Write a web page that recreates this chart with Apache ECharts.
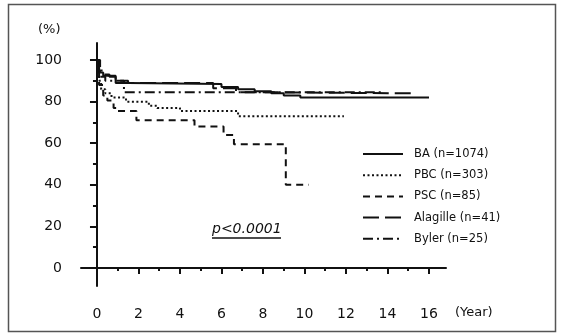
<!DOCTYPE html>
<html>
<head>
<meta charset="utf-8">
<script src="https://cdn.jsdelivr.net/npm/echarts@6/dist/echarts.min.js"></script>
<style>
  html, body { margin: 0; padding: 0; background: #fff; }
  #miGrafico { width: 562px; height: 335px; }
</style>
</head>
<body>
<div id="miGrafico"></div>
<script>
// Kaplan-Meier curves: each point = (start year, survival %), last point = end of follow-up
var baYears = [0, 0.1, 0.3, 0.9, 1.5, 6.0, 6.8, 7.6, 8.4, 9.0, 9.8, 16.0];
var baSurv  = [100, 94, 92.5, 89, 88.5, 87, 86, 85, 84, 83, 82, 82];

var pbcYears = [0, 0.1, 0.2, 0.4, 0.7, 1.4, 2.5, 2.9, 4, 6.8, 11.9];
var pbcSurv  = [100, 90, 86, 84, 82, 80, 78, 77, 75.5, 73, 73];

var pscYears = [0, 0.1, 0.3, 0.5, 0.8, 1.0, 1.9, 4.7, 6.1, 6.6, 9.1, 10.2];
var pscSurv  = [100, 88, 83, 80.5, 77, 75.5, 71, 68, 64, 59.5, 40, 40];

var alaYears = [0, 0.1, 0.3, 0.6, 0.9, 1.5, 5.6, 6.7, 8.2, 15.3];
var alaSurv  = [100, 95, 93, 92, 90, 89, 86.5, 84.5, 84, 84];

var bylYears = [0, 0.15, 0.4, 1.3, 13.8];
var bylSurv  = [100, 92, 90, 84.5, 84.5];

var names = ['BA (n=1074)', 'PBC (n=303)', 'PSC (n=85)', 'Alagille (n=41)', 'Byler (n=25)'];
var dashes = ['solid', [2, 2.5], [7, 5], [16, 6], [10, 4, 2, 4]];

var majorX = [0, 2, 4, 6, 8, 10, 12, 14, 16];
var minorX = [1, 3, 5, 7, 9, 11, 13, 15];
var majorY = [0, 20, 40, 60, 80, 100];
var minorY = [10, 30, 50, 70, 90];

document.addEventListener('DOMContentLoaded', function () {
  var chartDom = document.getElementById('miGrafico');
  var myChart = echarts.init(chartDom);

  function pares(xs, ys) {
    return xs.map(function (x, i) { return [x, ys[i]]; });
  }
  var datos = [
    pares(baYears, baSurv),
    pares(pbcYears, pbcSurv),
    pares(pscYears, pscSurv),
    pares(alaYears, alaSurv),
    pares(bylYears, bylSurv)
  ];

  var fuente = 'DejaVu Sans';
  var negro = '#111';

  var option = {
    animation: false,
    textStyle: { fontFamily: fuente, color: negro },
    grid: { left: 81, right: 116, top: 43, bottom: 49 },
    graphic: [
      { type: 'rect', shape: { x: 8.5, y: 4.5, width: 547, height: 327 },
        style: { fill: 'none', stroke: '#555', lineWidth: 1.5 }, silent: true },
      { type: 'text', left: 212, top: 222,
        style: { text: 'p<0.0001', font: 'italic 14px "DejaVu Sans"', fill: negro } },
      { type: 'line', shape: { x1: 212, y1: 238, x2: 281, y2: 238 },
        style: { stroke: negro, lineWidth: 1.5 } },
      { type: 'text', left: 38, top: 23,
        style: { text: '(%)', font: '13px "DejaVu Sans"', fill: negro } },
      { type: 'text', left: 455, top: 306,
        style: { text: '(Year)', font: '13px "DejaVu Sans"', fill: negro } }
    ],
    legend: {
      orient: 'vertical',
      left: 357,
      top: 143,
      itemWidth: 40,
      itemHeight: 14,
      itemGap: 9.2,
      itemStyle: { opacity: 0 },
      textStyle: { fontFamily: fuente, fontSize: 11.5, color: negro, padding: [0, 0, 0, 6] },
      data: names
    },
    xAxis: [
      {
        type: 'value', min: -0.77, max: 16.82,
        splitLine: { show: false },
        axisLine: { lineStyle: { color: negro, width: 2 } },
        axisTick: { customValues: majorX, length: 6, lineStyle: { width: 2, color: negro } },
        axisLabel: { customValues: majorX, margin: 21, fontSize: 14, color: negro, fontFamily: fuente }
      },
      {
        type: 'value', min: -0.77, max: 16.82, position: 'bottom',
        splitLine: { show: false },
        axisLine: { show: false },
        axisTick: { customValues: minorX, length: 3, lineStyle: { width: 2, color: negro } },
        axisLabel: { show: false }
      }
    ],
    yAxis: [
      {
        type: 'value', min: -8.65, max: 108.2,
        splitLine: { show: false },
        axisLine: { lineStyle: { color: negro, width: 2 } },
        axisTick: { customValues: majorY, length: 7, lineStyle: { width: 2, color: negro } },
        axisLabel: { customValues: majorY, margin: 19, fontSize: 14, color: negro, fontFamily: fuente }
      },
      {
        type: 'value', min: -8.65, max: 108.2, position: 'left',
        splitLine: { show: false },
        axisLine: { show: false },
        axisTick: { customValues: minorY, length: 4, lineStyle: { width: 2, color: negro } },
        axisLabel: { show: false }
      }
    ],
    series: datos.map(function (d, i) {
      return {
        name: names[i],
        type: 'line',
        step: 'end',
        symbol: 'none',
        data: d,
        color: negro,
        lineStyle: { color: negro, width: 2, type: dashes[i] }
      };
    })
  };

  myChart.setOption(option);

  window.addEventListener('resize', function () {
    myChart.resize();
  });
});
</script>
</body>
</html>
